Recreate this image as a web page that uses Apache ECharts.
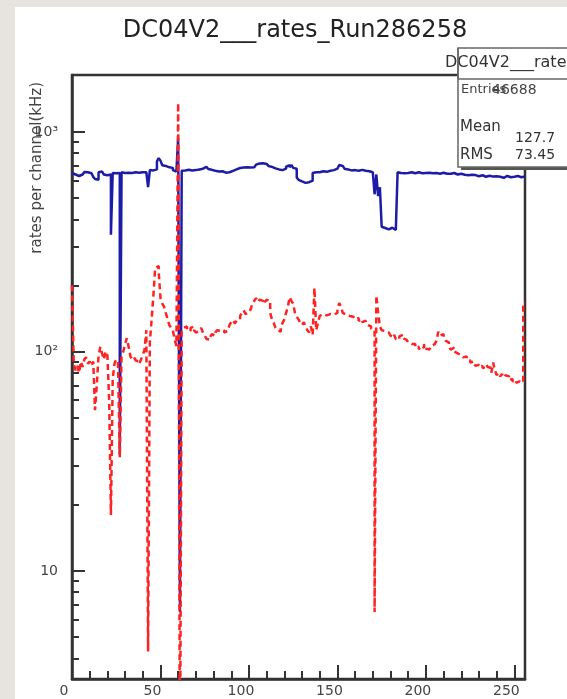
<!DOCTYPE html>
<html>
<head>
<meta charset="utf-8">
<title>DC04V2___rates_Run286258</title>
<script src="https://cdn.jsdelivr.net/npm/echarts@6/dist/echarts.min.js"></script>
<style>
  html, body { margin: 0; padding: 0; background: #e7e3de; }
  #wrap { position: relative; width: 567px; height: 699px; overflow: hidden; }
  #paper { position: absolute; left: 15px; top: 7px; right: 0; bottom: 0; background: #ffffff; }
  #main { position: absolute; left: 0; top: 0; width: 567px; height: 699px; }
</style>
</head>
<body>
<div id="wrap">
  <div id="paper"></div>
  <div id="main"></div>
</div>
<script>
// rates per channel, one value per channel 0..255
var blueRates = [
  650, 640, 645, 630, 625, 640, 650, 657, 655, 650,
  648, 640, 624, 610, 605, 655, 660, 650, 640, 635,
  638, 640, 340, 650, 648, 652, 650, 34, 655, 650,
  657, 652, 655, 650, 658, 655, 650, 652, 660, 655,
  650, 655, 655, 560, 670, 668, 672, 675, 735, 760,
  740, 705, 700, 695, 690, 688, 686, 670, 660, 655,
  940, 6.5, 665, 668, 670, 672, 670, 668, 665, 670,
  672, 675, 678, 680, 685, 693, 685, 678, 672, 668,
  665, 662, 660, 658, 662, 655, 652, 650, 655, 660,
  665, 670, 675, 680, 685, 690, 688, 686, 690, 693,
  688, 685, 690, 700, 710, 718, 722, 720, 718, 715,
  712, 700, 693, 688, 682, 678, 675, 672, 670, 672,
  680, 695, 705, 690, 707, 686, 680, 620, 605, 595,
  590, 586, 588, 590, 595, 600, 650, 655, 658, 655,
  660, 662, 660, 658, 662, 665, 668, 670, 672, 680,
  690, 707, 700, 690, 680, 675, 670, 668, 672, 670,
  668, 665, 670, 672, 668, 665, 660, 662, 658, 655,
  660, 520, 640, 510, 560, 370, 365, 368, 360, 362,
  366, 360, 358, 365, 655, 650, 652, 648, 645, 650,
  652, 655, 650, 648, 652, 655, 650, 648, 645, 650,
  655, 652, 650, 648, 645, 650, 648, 645, 650, 652,
  648, 645, 642, 645, 648, 650, 645, 640, 642, 645,
  640, 638, 640, 635, 632, 638, 640, 636, 630, 628,
  632, 635, 630, 625, 628, 632, 630, 626, 624, 628,
  630, 625, 620, 618, 625, 630, 628, 622, 620, 625,
  628, 630, 625, 622, 620, 626
];

var redRates = [
  200, 88, 82, 86, 80, 90, 85, 92, 94, 88,
  90, 86, 90, 54, 70, 95, 105, 98, 92, 100,
  96, 60, 18, 75, 88, 92, 89, 33, 95, 100,
  108, 115, 105, 95, 92, 94, 91, 90, 88, 92,
  96, 102, 125, 4.3, 110, 140, 180, 240, 245, 230,
  175, 165, 160, 150, 140, 132, 128, 125, 113, 106,
  1356, 1, 125, 128, 130, 126, 124, 128, 130, 125,
  122, 124, 126, 128, 122, 118, 114, 113, 116, 120,
  118, 122, 125, 124, 123, 125, 122, 124, 126, 132,
  136, 139, 134, 138, 140, 145, 150, 154, 148, 150,
  152, 156, 166, 170, 175, 168, 172, 170, 174, 168,
  172, 170, 150, 140, 135, 128, 125, 123, 130, 135,
  140, 150, 160, 177, 170, 165, 150, 144, 140, 135,
  132, 136, 130, 125, 122, 130, 119, 195, 125, 135,
  145, 148, 150, 146, 144, 148, 150, 147, 145, 150,
  155, 166, 160, 150, 147, 147, 145, 148, 144, 142,
  140, 142, 138, 140, 136, 138, 135, 132, 130, 127,
  125, 6.5, 180, 150, 130, 125, 124, 126, 122, 120,
  118, 116, 119, 114, 113, 117, 119, 115, 113, 112,
  110, 108, 106, 108, 104, 105, 102, 106, 104, 108,
  103, 102, 104, 106, 108, 110, 112, 123, 118, 120,
  116, 112, 110, 105, 102, 104, 100, 98, 99, 96,
  97, 94, 95, 92, 91, 89, 90, 88, 86, 87,
  85, 86, 84, 85, 87, 85, 84, 80, 89, 82,
  78, 80, 77, 79, 76, 78, 77, 74, 75, 73,
  74, 72, 73, 74, 72, 166
];

var xMajorTicks = [0, 50, 100, 150, 200, 250];
var xMinorTicks = [10, 20, 30, 40, 60, 70, 80, 90, 110, 120, 130, 140, 160, 170, 180, 190, 210, 220, 230, 240];
var yMajorTicks = [10, 100, 1000];
var yMinorTicks = [4, 5, 6, 7, 8, 9, 20, 30, 40, 50, 60, 70, 80, 90, 200, 300, 400, 500, 600, 700, 800, 900];
var yTickLabels = { 10: '10', 100: '10²', 1000: '10³' };

var histTitle = 'DC04V2___rates_Run286258';
var yTitle = 'rates per channel(kHz)';
var statEntries = '46688';
var statMean = '127.7';
var statRms = '73.45';

var nBins = 256;
var yMin = 3.22, yMax = 1817;
var FONT = 'DejaVu Sans';

// histogram bins as steps: one point per bin low edge, plus the closing edge
function toSteps(values) {
  var pts = values.map(function (v, i) { return [i, v]; });
  pts.push([nBins, values[values.length - 1]]);
  return pts;
}

var chart = echarts.init(document.getElementById('main'), null, { renderer: 'canvas' });

var option = {
  backgroundColor: 'transparent',
  animation: false,
  title: {
    text: histTitle,
    left: 290,
    top: 14,
    textAlign: 'center',
    textStyle: { fontFamily: FONT, fontSize: 24, fontWeight: 'normal', color: '#222' }
  },
  grid: {
    left: 72, right: 42, top: 75, bottom: 20,
    show: true, borderColor: '#333', borderWidth: 2.5, backgroundColor: '#fff'
  },
  xAxis: [{
    type: 'value', min: 0, max: nBins,
    axisLine: { show: true, lineStyle: { color: '#333', width: 2.5 } },
    axisTick: { show: true, inside: true, length: 14, customValues: xMajorTicks, lineStyle: { color: '#333', width: 2 } },
    axisLabel: {
      customValues: xMajorTicks, margin: 5, padding: [0, 16, 0, 0],
      fontFamily: FONT, fontSize: 14, color: '#444'
    },
    splitLine: { show: false }
  }, {
    type: 'value', min: 0, max: nBins, position: 'bottom',
    axisLine: { show: false },
    axisTick: { show: true, inside: true, length: 8, customValues: xMinorTicks, lineStyle: { color: '#333', width: 2 } },
    axisLabel: { show: false },
    splitLine: { show: false }
  }],
  yAxis: [{
    type: 'log', logBase: 10, min: yMin, max: yMax,
    axisLine: { show: true, lineStyle: { color: '#333', width: 2.5 } },
    axisTick: { show: true, inside: true, length: 13, customValues: yMajorTicks, lineStyle: { color: '#333', width: 2 } },
    axisLabel: {
      customValues: yMajorTicks, margin: 14,
      fontFamily: FONT, fontSize: 14, color: '#444',
      formatter: function (v) { return yTickLabels[Math.round(v)] || ''; }
    },
    splitLine: { show: false }
  }, {
    type: 'log', logBase: 10, min: yMin, max: yMax, position: 'left',
    axisLine: { show: false },
    axisTick: { show: true, inside: true, length: 7, customValues: yMinorTicks, lineStyle: { color: '#333', width: 2 } },
    axisLabel: { show: false },
    splitLine: { show: false }
  }],
  series: [{
    name: 'blue',
    type: 'line',
    step: 'end',
    showSymbol: false,
    symbol: 'none',
    data: toSteps(blueRates),
    lineStyle: { color: '#1c1ca6', width: 2.5 },
    z: 2
  }, {
    name: 'red',
    type: 'line',
    step: 'end',
    showSymbol: false,
    symbol: 'none',
    data: toSteps(redRates),
    lineStyle: { color: '#ff2222', width: 2.5, type: [6, 4] },
    z: 3
  }],
  graphic: [
    {
      type: 'text', x: 37, y: 82, rotation: Math.PI / 2,
      style: { text: yTitle, fill: '#444', font: '15px "DejaVu Sans"', align: 'right', verticalAlign: 'middle' }
    },
    // stats box with shadow
    { type: 'rect', shape: { x: 461, y: 51, width: 140, height: 119 }, style: { fill: '#555' }, z: 20 },
    { type: 'rect', shape: { x: 458, y: 48, width: 140, height: 119 }, style: { fill: '#fff', stroke: '#666', lineWidth: 1.5 }, z: 21 },
    { type: 'line', shape: { x1: 458, y1: 79, x2: 600, y2: 79 }, style: { stroke: '#666', lineWidth: 1.5 }, z: 22 },
    {
      type: 'text', x: 445, y: 63, z: 23,
      style: { text: histTitle, fill: '#333', font: '16px "DejaVu Sans"', align: 'left', verticalAlign: 'middle' }
    },
    { type: 'line', shape: { x1: 458, y1: 48, x2: 458, y2: 79 }, style: { stroke: '#666', lineWidth: 1.5 }, z: 24 },
    {
      type: 'text', x: 461, y: 90, z: 23,
      style: { text: 'Entries', fill: '#444', font: '13px "DejaVu Sans"', align: 'left', verticalAlign: 'middle' }
    },
    {
      type: 'text', x: 492, y: 90, z: 23,
      style: { text: statEntries, fill: '#444', font: '14px "DejaVu Sans"', align: 'left', verticalAlign: 'middle' }
    },
    {
      type: 'text', x: 460, y: 127, z: 23,
      style: { text: 'Mean', fill: '#333', font: '15px "DejaVu Sans"', align: 'left', verticalAlign: 'middle' }
    },
    {
      type: 'text', x: 515, y: 138, z: 23,
      style: { text: statMean, fill: '#333', font: '14px "DejaVu Sans"', align: 'left', verticalAlign: 'middle' }
    },
    {
      type: 'text', x: 460, y: 155, z: 23,
      style: { text: 'RMS', fill: '#333', font: '15px "DejaVu Sans"', align: 'left', verticalAlign: 'middle' }
    },
    {
      type: 'text', x: 515, y: 155, z: 23,
      style: { text: statRms, fill: '#333', font: '14px "DejaVu Sans"', align: 'left', verticalAlign: 'middle' }
    }
  ]
};

chart.setOption(option);
</script>
</body>
</html>
